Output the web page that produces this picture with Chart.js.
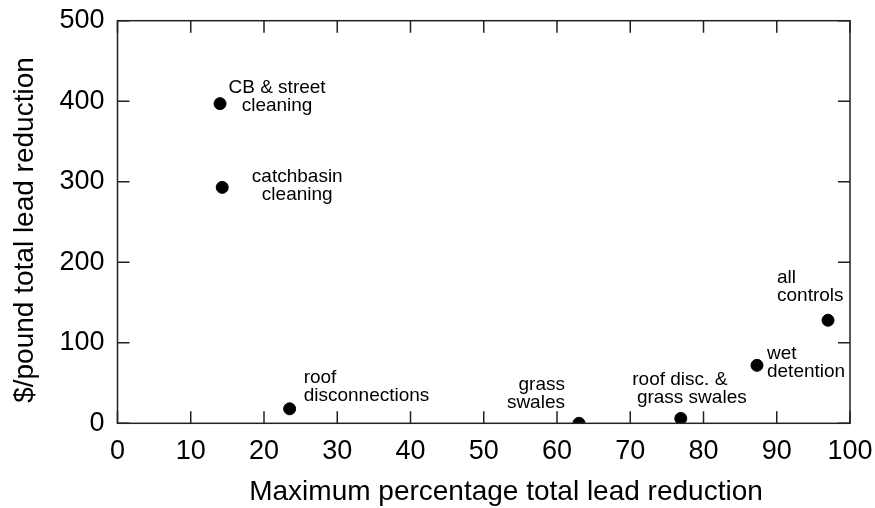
<!DOCTYPE html>
<html>
<head>
<meta charset="utf-8">
<script src="https://cdn.jsdelivr.net/npm/chart.js@4.4.0/dist/chart.umd.min.js"></script>
<style>
  html, body { margin: 0; padding: 0; background: #fff; }
  #wrap { width: 875px; height: 508px; }
</style>
</head>
<body>
<div id="wrap"><canvas id="chart" width="875" height="508"></canvas></div>
<script>
// Data
const controlNames = [
  ["CB & street", "cleaning"],
  ["catchbasin", "cleaning"],
  ["roof", "disconnections"],
  ["grass", "swales"],
  ["roof disc. &", "grass swales"],
  ["wet", "detention"],
  ["all", "controls"]
];
const maxLeadReduction = [14.0, 14.3, 23.5, 63.0, 76.9, 87.3, 97.0];
const costPerPound = [397, 293, 18, 0, 6, 72, 128];

const xTicks = [0, 10, 20, 30, 40, 50, 60, 70, 80, 90, 100];
const yTicks = [0, 100, 200, 300, 400, 500];

const xTitle = "Maximum percentage total lead reduction";
const yTitle = "$/pound total lead reduction";

// where each label sits relative to its point (px): align, x offset per line, baseline offset per line
const labelPlacement = [
  { align: "center", dx: [57, 57], dy: [-11, 7] },
  { align: "center", dx: [75, 75], dy: [-5, 13] },
  { align: "left", dx: [14, 14], dy: [-26, -8] },
  { align: "right", dx: [-14, -14], dy: [-33, -15] },
  { align: "center", dx: [-1, 11], dy: [-33, -15] },
  { align: "left", dx: [10, 10], dy: [-6, 12] },
  { align: "left", dx: [-51, -51], dy: [-37, -19] }
];

const FONT = "'Liberation Sans', Arial, Helvetica, sans-serif";
const AXIS_COLOR = "#222";

const points = maxLeadReduction.map((x, i) => ({ x: x, y: costPerPound[i] }));

// frame on all four sides with inward tick marks, plus axis titles
const framePlugin = {
  id: "frame",
  afterDraw(chart) {
    const { ctx, chartArea: a, scales } = chart;
    const len = 12;
    ctx.save();
    ctx.strokeStyle = AXIS_COLOR;
    ctx.lineWidth = 1.5;
    ctx.strokeRect(a.left, a.top, a.right - a.left, a.bottom - a.top);
    ctx.beginPath();
    xTicks.forEach((v) => {
      const px = scales.x.getPixelForValue(v);
      ctx.moveTo(px, a.bottom);
      ctx.lineTo(px, a.bottom - len);
      ctx.moveTo(px, a.top);
      ctx.lineTo(px, a.top + len);
    });
    yTicks.forEach((v) => {
      const py = scales.y.getPixelForValue(v);
      ctx.moveTo(a.left, py);
      ctx.lineTo(a.left + len, py);
      ctx.moveTo(a.right, py);
      ctx.lineTo(a.right - len, py);
    });
    ctx.stroke();

    // axis titles (the reference sets them a bit off the plot centre)
    ctx.fillStyle = "#000";
    ctx.font = "28px " + FONT;
    ctx.textAlign = "center";
    ctx.textBaseline = "middle";
    ctx.fillText(xTitle, 506, 492);
    ctx.translate(25, 230);
    ctx.rotate(-Math.PI / 2);
    ctx.fillText(yTitle, 0, 0);
    ctx.restore();
  }
};

// text labels next to each point
const pointLabelPlugin = {
  id: "pointLabels",
  afterDatasetsDraw(chart) {
    const { ctx } = chart;
    const meta = chart.getDatasetMeta(0);
    ctx.save();
    ctx.fillStyle = "#000";
    ctx.font = "19px " + FONT;
    ctx.textBaseline = "alphabetic";
    meta.data.forEach((pt, i) => {
      const place = labelPlacement[i];
      ctx.textAlign = place.align;
      controlNames[i].forEach((line, j) => {
        ctx.fillText(line, pt.x + place.dx[j], pt.y + place.dy[j]);
      });
    });
    ctx.restore();
  }
};

new Chart(document.getElementById("chart"), {
  type: "scatter",
  data: {
    datasets: [{
      data: points,
      backgroundColor: "#000",
      borderColor: "#000",
      pointRadius: 6,
      pointHoverRadius: 6
    }]
  },
  options: {
    responsive: false,
    animation: false,
    events: [],
    layout: { padding: { top: 20.7, right: 25, left: 0, bottom: 0 } },
    plugins: { legend: { display: false }, tooltip: { enabled: false } },
    scales: {
      x: {
        type: "linear",
        min: 0,
        max: 100,
        afterBuildTicks: (s) => { s.ticks = xTicks.map((v) => ({ value: v })); },
        afterFit: (s) => { s.height = 84.7; s.paddingLeft = 0; s.paddingRight = 0; },
        grid: { display: false, drawTicks: false },
        border: { display: false },
        ticks: { color: "#000", padding: 12, maxRotation: 0, font: { family: FONT, size: 27 } },
        title: { display: false }
      },
      y: {
        type: "linear",
        min: 0,
        max: 500,
        afterBuildTicks: (s) => { s.ticks = yTicks.map((v) => ({ value: v })); },
        afterFit: (s) => { s.width = 117.5; s.paddingTop = 0; s.paddingBottom = 0; },
        grid: { display: false, drawTicks: false },
        border: { display: false },
        ticks: { color: "#000", padding: 13, font: { family: FONT, size: 27 } },
        title: { display: false }
      }
    }
  },
  plugins: [framePlugin, pointLabelPlugin]
});
</script>
</body>
</html>
